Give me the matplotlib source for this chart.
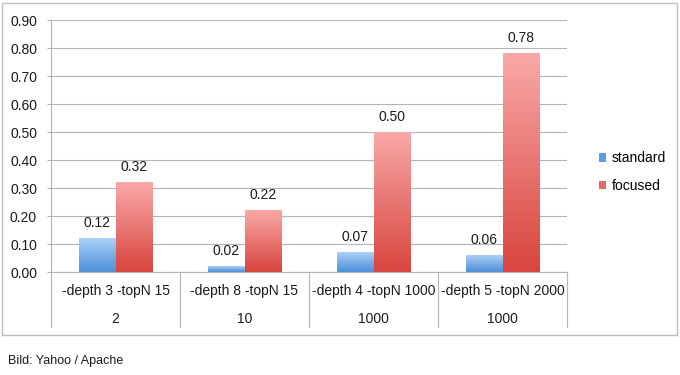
import matplotlib.pyplot as plt
import numpy as np
from matplotlib.colors import LinearSegmentedColormap
from matplotlib.patches import Patch, Rectangle

categories = ["-depth 3 -topN 15", "-depth 8 -topN 15", "-depth 4 -topN 1000", "-depth 5 -topN 2000"]
second_row = ["2", "10", "1000", "1000"]
standard = [0.12, 0.02, 0.07, 0.06]
focused = [0.32, 0.22, 0.50, 0.78]
series_names = ["standard", "focused"]
yticks = [0.0, 0.1, 0.2, 0.3, 0.4, 0.5, 0.6, 0.7, 0.8, 0.9]

GRID = "#b5b5b5"
TXT = "#1a1a1a"
BLUE_TOP, BLUE_BOT = "#abd0f7", "#4b8fda"
RED_TOP, RED_BOT = "#f9a9a8", "#d8443d"

plt.rcParams["font.family"] = ["Liberation Sans", "DejaVu Sans"]

W, H = 680, 375
fig = plt.figure(figsize=(6.8, 3.75), dpi=100)
ax = fig.add_axes([51 / W, 1 - 272 / H, (567 - 51) / W, (272 - 20) / H])

x = np.arange(len(categories))
bw = 0.283


def gradient_bars(xs, vals, top, bot):
    bars = ax.bar(xs, vals, bw, color="none", zorder=2)
    cmap = LinearSegmentedColormap.from_list("g", [bot, top])
    grad = np.linspace(0, 1, 256).reshape(-1, 1)
    for b in bars:
        ax.imshow(grad, cmap=cmap, origin="lower", aspect="auto", zorder=2,
                  extent=[b.get_x(), b.get_x() + b.get_width(), 0, b.get_height()])
    for b, v in zip(bars, vals):
        ax.annotate("%.2f" % v, (b.get_x() + b.get_width() / 2, v),
                    xytext=(0, 6), textcoords="offset points",
                    ha="center", va="bottom", fontsize=10, color=TXT)


gradient_bars(x - bw / 2, standard, BLUE_TOP, BLUE_BOT)
gradient_bars(x + bw / 2, focused, RED_TOP, RED_BOT)

ax.set_xlim(-0.5, len(categories) - 0.5)
ax.set_ylim(0, 0.9)
ax.set_yticks(yticks)
ax.set_yticklabels(["%.2f" % t for t in yticks], fontsize=10, color=TXT)
ax.set_xticks([])
ax.yaxis.grid(True, color=GRID, lw=0.8)
ax.set_axisbelow(True)
for s in ["top", "right"]:
    ax.spines[s].set_visible(False)
for s in ["left", "bottom"]:
    ax.spines[s].set_color(GRID)
    ax.spines[s].set_linewidth(0.8)
ax.tick_params(axis="y", length=3, color=GRID, width=0.8, pad=7)

# data table under the axis
tr = ax.get_xaxis_transform()
for i, (c, s) in enumerate(zip(categories, second_row)):
    ax.text(i, -0.075, c, transform=tr, ha="center", va="center", fontsize=10, color=TXT)
    ax.text(i, -0.186, s, transform=tr, ha="center", va="center", fontsize=10, color=TXT)
for xv in np.arange(len(categories) + 1) - 0.5:
    ax.plot([xv, xv], [0, -0.218], transform=tr, color=GRID, lw=0.8, clip_on=False)

handles = [Patch(facecolor="#5b9de3", label=series_names[0]),
           Patch(facecolor="#e46a66", label=series_names[1])]
fig.legend(handles=handles, loc="upper left", bbox_to_anchor=(586 / W, 1 - 139 / H),
           frameon=False, fontsize=10, handlelength=0.55, handleheight=0.55,
           handletextpad=0.4, labelspacing=0.95)

fig.patches.append(Rectangle((2 / W, 1 - 335 / H), 675 / W, 332 / H, transform=fig.transFigure,
                             fill=False, edgecolor="#bdbdbd", lw=1.0))
fig.text(8 / W, 1 - 361 / H, "Bild: Yahoo / Apache", fontsize=9, color=TXT, va="center")

fig.savefig("out.png", dpi=100)
